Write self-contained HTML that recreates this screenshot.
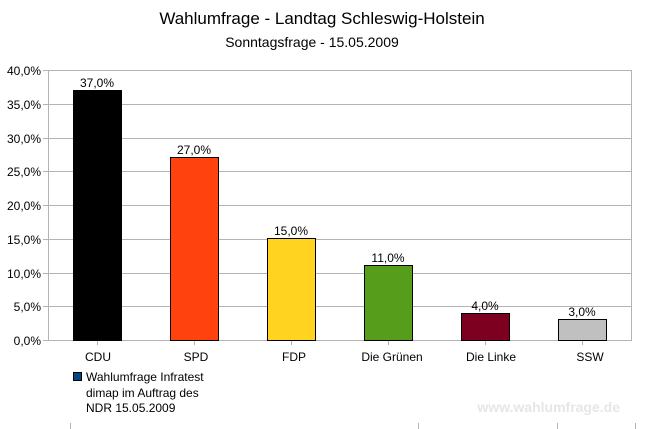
<!DOCTYPE html>
<html><head><meta charset="utf-8"><style>
body{margin:0;background:#fff;}
svg{display:block;font-family:"Liberation Sans",sans-serif;}
</style></head><body>
<svg width="645" height="429" viewBox="0 0 645 429">
<text x="322" y="24" font-size="17" text-anchor="middle">Wahlumfrage - Landtag Schleswig-Holstein</text>
<text x="312" y="47" font-size="14" text-anchor="middle">Sonntagsfrage - 15.05.2009</text>
<g stroke="#b3b3b3" stroke-width="1">
<line x1="43" y1="70.5" x2="632" y2="70.5"/>
<line x1="43" y1="104.5" x2="632" y2="104.5"/>
<line x1="43" y1="138.5" x2="632" y2="138.5"/>
<line x1="43" y1="171.5" x2="632" y2="171.5"/>
<line x1="43" y1="205.5" x2="632" y2="205.5"/>
<line x1="43" y1="239.5" x2="632" y2="239.5"/>
<line x1="43" y1="273.5" x2="632" y2="273.5"/>
<line x1="43" y1="306.5" x2="632" y2="306.5"/>
<line x1="43" y1="340.5" x2="632" y2="340.5"/>
<line x1="48.5" y1="70" x2="48.5" y2="340"/>
<line x1="631.5" y1="70" x2="631.5" y2="340"/>
<line x1="97.5" y1="340" x2="97.5" y2="345"/>
<line x1="194.5" y1="340" x2="194.5" y2="345"/>
<line x1="291.5" y1="340" x2="291.5" y2="345"/>
<line x1="388.5" y1="340" x2="388.5" y2="345"/>
<line x1="485.5" y1="340" x2="485.5" y2="345"/>
<line x1="582.5" y1="340" x2="582.5" y2="345"/>
<line x1="70.5" y1="423" x2="70.5" y2="429"/>
<line x1="418.5" y1="423" x2="418.5" y2="429"/>
<line x1="557.5" y1="423" x2="557.5" y2="429"/>
<line x1="635.5" y1="423" x2="635.5" y2="429"/>
</g>
<g font-size="12" text-anchor="end">
<text x="41" y="75">40,0%</text><text x="41" y="109">35,0%</text>
<text x="41" y="143">30,0%</text><text x="41" y="176">25,0%</text>
<text x="41" y="210">20,0%</text><text x="41" y="244">15,0%</text>
<text x="41" y="278">10,0%</text><text x="41" y="311">5,0%</text>
<text x="41" y="345">0,0%</text>
</g>
<g stroke="#000" stroke-width="1">
<rect x="73.5" y="90.5" width="48" height="250" fill="#000"/>
<rect x="170.5" y="157.5" width="48" height="183" fill="#ff420e"/>
<rect x="267.5" y="238.5" width="48" height="102" fill="#ffd320"/>
<rect x="364.5" y="265.5" width="48" height="75" fill="#579d1c"/>
<rect x="461.5" y="313.5" width="48" height="27" fill="#7e0021"/>
<rect x="558.5" y="319.5" width="48" height="21" fill="#c0c0c0"/>
</g>
<g font-size="12" text-anchor="middle">
<text x="97" y="87">37,0%</text><text x="194" y="154">27,0%</text>
<text x="291" y="235">15,0%</text><text x="388" y="262">11,0%</text>
<text x="485" y="310">4,0%</text><text x="582" y="316">3,0%</text>
<text x="98" y="361">CDU</text><text x="196" y="361">SPD</text>
<text x="294" y="361">FDP</text><text x="392" y="361">Die Grünen</text>
<text x="491" y="361">Die Linke</text><text x="590" y="361">SSW</text>
</g>
<rect x="73.5" y="372.5" width="8" height="8" fill="#004586" stroke="#000"/>
<g font-size="12">
<text x="86" y="381">Wahlumfrage Infratest</text>
<text x="86" y="397">dimap im Auftrag des</text>
<text x="86" y="412">NDR 15.05.2009</text>
</g>
<text x="620" y="412" font-size="14" font-weight="bold" fill="#e6e6e6" text-anchor="end">www.wahlumfrage.de</text>
</svg>
</body></html>
